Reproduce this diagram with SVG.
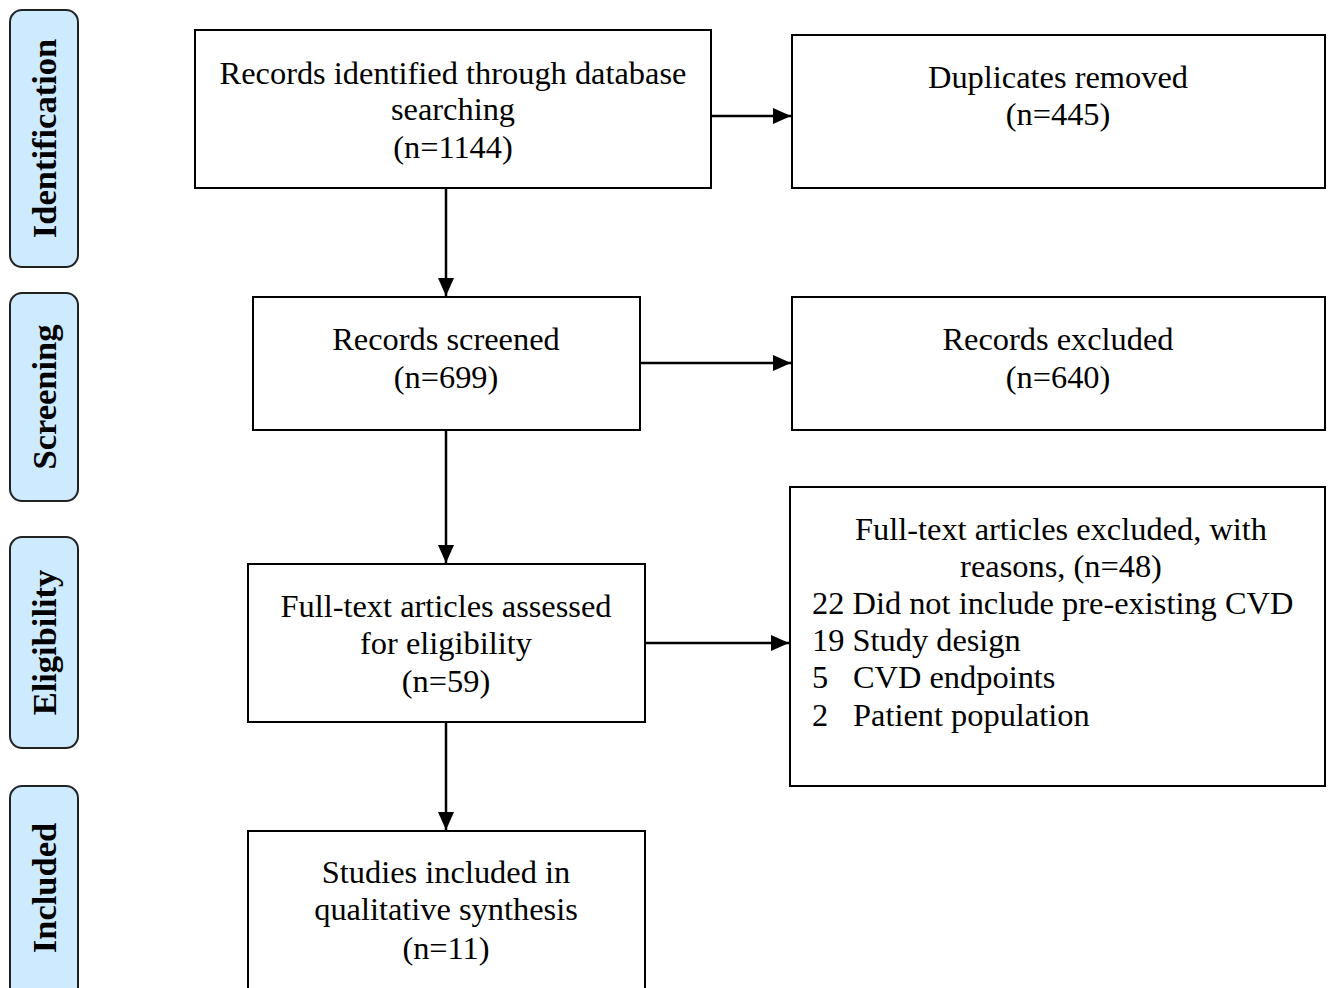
<svg xmlns="http://www.w3.org/2000/svg" width="1330" height="988" viewBox="0 0 1330 988">
<defs>
<marker id="ahb" viewBox="0 0 18 16" markerWidth="18" markerHeight="16" refX="18" refY="8" orient="auto" markerUnits="userSpaceOnUse">
<path d="M0,0 L18,8 L0,16 z" fill="#000"/>
</marker>
</defs>
<style>
.box{fill:#fff;stroke:#000;stroke-width:2}
.side{fill:#cdeaff;stroke:#222;stroke-width:2}
.t{font-family:"Liberation Serif","Times New Roman",serif;font-size:32.4px;fill:#000}
.c{text-anchor:middle}
.s{font-family:"Liberation Serif","Times New Roman",serif;font-size:34.5px;font-weight:bold;fill:#000;text-anchor:middle}
.con{stroke:#000;stroke-width:2.5;fill:none;marker-end:url(#ahb)}
</style>
<rect width="1330" height="988" fill="#fff"/>
<g id="side-identification"><rect class="side" x="10" y="10" width="68" height="257" rx="12"/><text class="s" transform="translate(56,138.5) rotate(-90)">Identification</text></g>
<g id="side-screening"><rect class="side" x="10" y="293" width="68" height="208" rx="12"/><text class="s" transform="translate(56,397) rotate(-90)">Screening</text></g>
<g id="side-eligibility"><rect class="side" x="10" y="537" width="68" height="211" rx="12"/><text class="s" transform="translate(56,642.5) rotate(-90)">Eligibility</text></g>
<g id="side-included"><rect class="side" x="10" y="786" width="68" height="220" rx="12"/><text class="s" transform="translate(56,888) rotate(-90)">Included</text></g>
<g id="identified"><rect class="box" x="195" y="30" width="516" height="158"/><text class="t c" x="453" y="84">Records identified through database</text><text class="t c" x="453" y="120">searching</text><text class="t c" x="453" y="158">(n=1144)</text></g>
<g id="duplicates"><rect class="box" x="792" y="35" width="533" height="153"/><text class="t c" x="1058" y="88">Duplicates removed</text><text class="t c" x="1058" y="125">(n=445)</text></g>
<g id="screened"><rect class="box" x="253" y="297" width="387" height="133"/><text class="t c" x="446" y="350">Records screened</text><text class="t c" x="446" y="388">(n=699)</text></g>
<g id="excluded"><rect class="box" x="792" y="297" width="533" height="133"/><text class="t c" x="1058" y="350">Records excluded</text><text class="t c" x="1058" y="388">(n=640)</text></g>
<g id="assessed"><rect class="box" x="248" y="564" width="397" height="158"/><text class="t c" x="446" y="617">Full-text articles assessed</text><text class="t c" x="446" y="654">for eligibility</text><text class="t c" x="446" y="692">(n=59)</text></g>
<g id="fulltext-excluded"><rect class="box" x="790" y="487" width="535" height="299"/><text class="t c" x="1061" y="540">Full-text articles excluded, with</text><text class="t c" x="1061" y="577">reasons, (n=48)</text><text class="t" x="812" y="614">22 Did not include pre-existing CVD</text><text class="t" x="812" y="651">19 Study design</text><text class="t" x="812" y="688">5</text><text class="t" x="853" y="688">CVD endpoints</text><text class="t" x="812" y="726">2</text><text class="t" x="853" y="726">Patient population</text></g>
<g id="included"><rect class="box" x="248" y="831" width="397" height="170"/><text class="t c" x="446" y="883">Studies included in</text><text class="t c" x="446" y="920">qualitative synthesis</text><text class="t c" x="446" y="959">(n=11)</text></g>
<g id="connectors">
<line class="con" x1="711" y1="116" x2="791" y2="116"/>
<line class="con" x1="446" y1="188" x2="446" y2="296"/>
<line class="con" x1="640" y1="363" x2="791" y2="363"/>
<line class="con" x1="446" y1="430" x2="446" y2="563"/>
<line class="con" x1="645" y1="643" x2="789" y2="643"/>
<line class="con" x1="446" y1="722" x2="446" y2="830"/>
</g>
</svg>
